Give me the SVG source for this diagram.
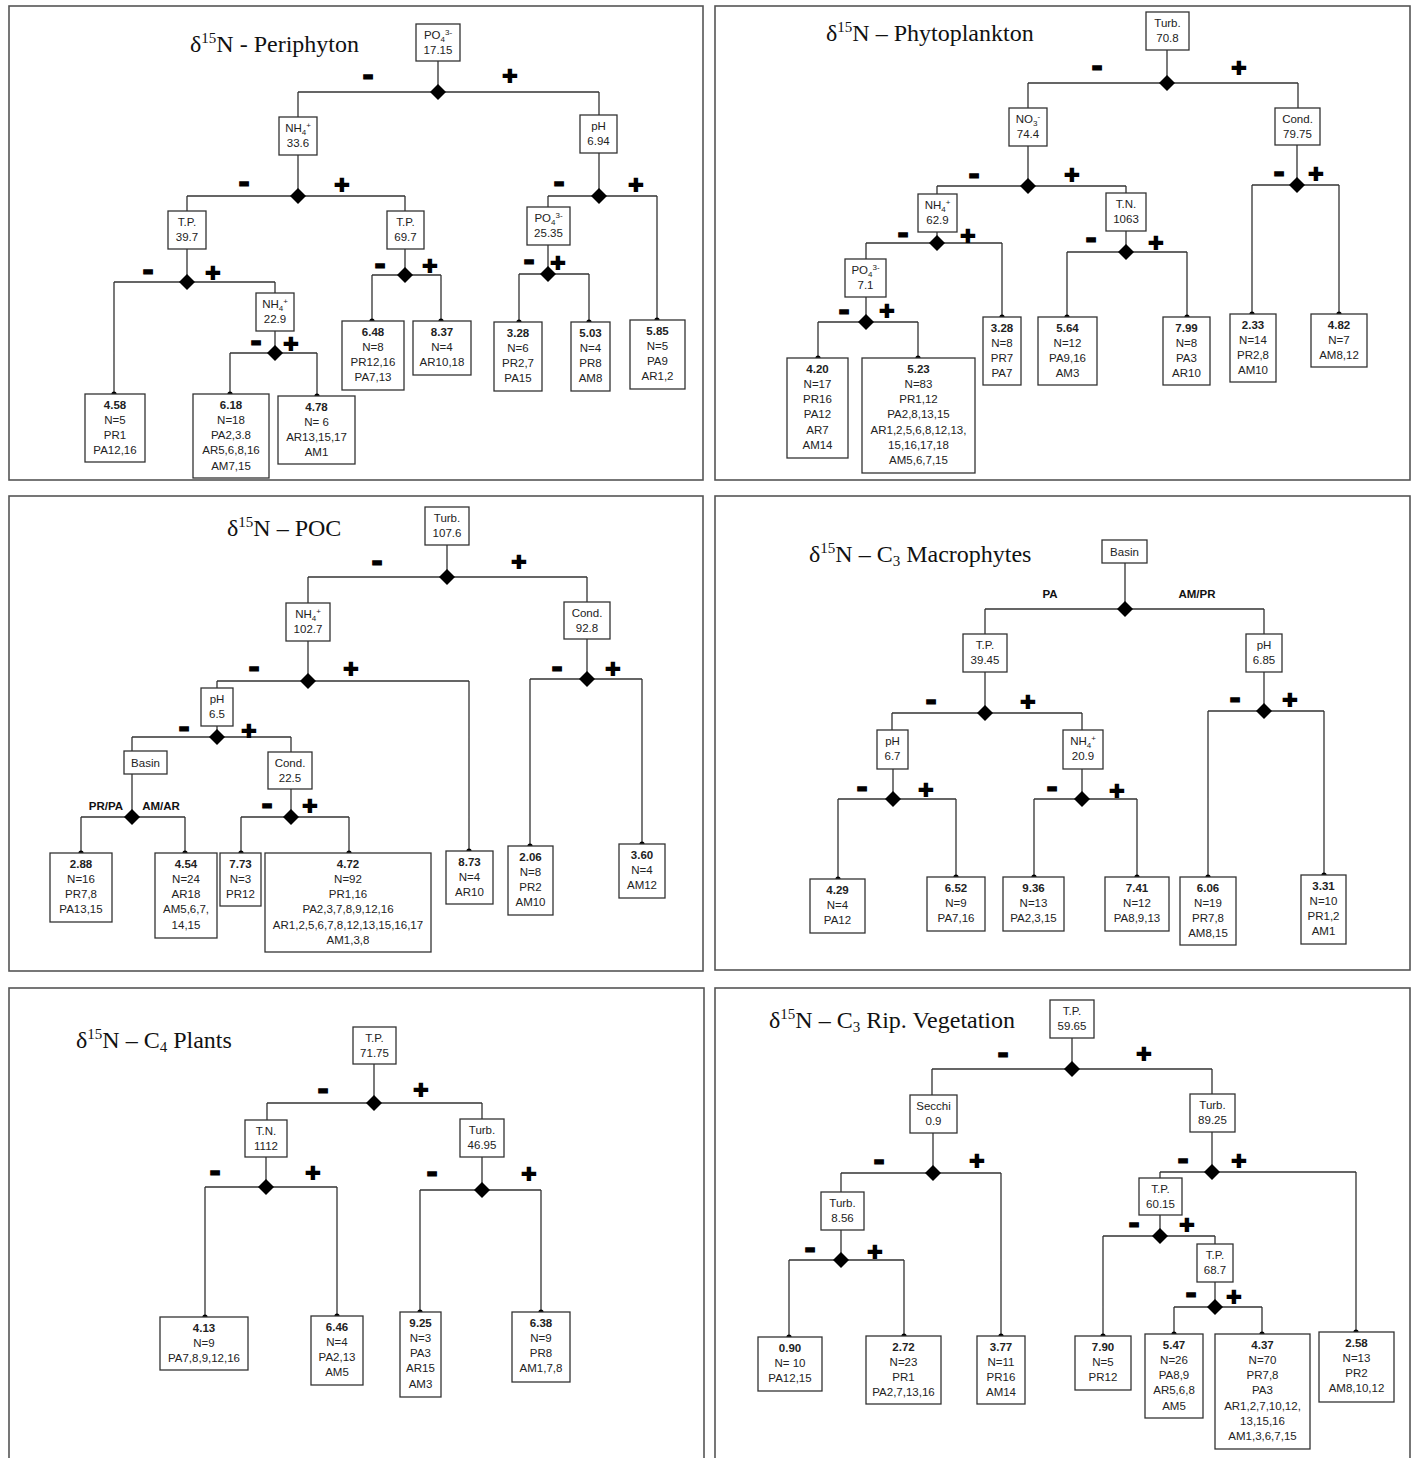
<svg xmlns="http://www.w3.org/2000/svg" xmlns:xlink="http://www.w3.org/1999/xlink" width="1414" height="1458" viewBox="0 0 1414 1458">
<style>
.frame{fill:none;stroke:#555;stroke-width:1.6}
.box{fill:#fff;stroke:#333;stroke-width:1.3}
.ln{fill:none;stroke:#333;stroke-width:1.3}
.t{font-family:"Liberation Sans",Arial,sans-serif;font-size:11.5px;fill:#222;text-anchor:middle}
.b{font-weight:bold}
.s{font-size:8px}
.ttl{font-family:"Liberation Serif","Times New Roman",serif;font-size:24px;fill:#111}
.sp{font-size:15px}
.mn{font-family:"DejaVu Sans",sans-serif;font-weight:bold;font-size:28px;text-anchor:middle;fill:#000;stroke:#000;stroke-width:1.2}
.pl{font-family:"DejaVu Sans",sans-serif;font-weight:bold;font-size:20px;text-anchor:middle;fill:#000;stroke:#000;stroke-width:2}
.lb{font-family:"Liberation Sans",Arial,sans-serif;font-size:11.5px;font-weight:bold;fill:#111;text-anchor:middle}
</style>
<defs>
<path id="dia" d="M0,-8L8,0L0,8L-8,0Z" fill="#000"/>
<circle id="dot" r="2.6" fill="#000"/>
</defs>
<rect width="1414" height="1458" fill="#fff"/>
<g id="frames">
<rect class="frame" x="9" y="6" width="694" height="474"/>
<rect class="frame" x="715" y="6" width="695" height="474"/>
<rect class="frame" x="9" y="496" width="694" height="475"/>
<rect class="frame" x="715" y="496" width="695" height="474"/>
<rect class="frame" x="9" y="988" width="695" height="490"/>
<rect class="frame" x="715" y="988" width="695" height="490"/>
</g>
<g id="titles">
<text class="ttl" x="190" y="52">δ<tspan class="sp" dy="-9">15</tspan><tspan dy="9">N - Periphyton</tspan></text>
<text class="ttl" x="826" y="41">δ<tspan class="sp" dy="-9">15</tspan><tspan dy="9">N – Phytoplankton</tspan></text>
<text class="ttl" x="227" y="536">δ<tspan class="sp" dy="-9">15</tspan><tspan dy="9">N – POC</tspan></text>
<text class="ttl" x="809" y="562">δ<tspan class="sp" dy="-9">15</tspan><tspan dy="9">N – C</tspan><tspan class="sp" dy="4">3</tspan><tspan dy="-4"> Macrophytes</tspan></text>
<text class="ttl" x="76" y="1048">δ<tspan class="sp" dy="-9">15</tspan><tspan dy="9">N – C</tspan><tspan class="sp" dy="4">4</tspan><tspan dy="-4"> Plants</tspan></text>
<text class="ttl" x="769" y="1028">δ<tspan class="sp" dy="-9">15</tspan><tspan dy="9">N – C</tspan><tspan class="sp" dy="4">3</tspan><tspan dy="-4"> Rip. Vegetation</tspan></text>
</g>
<g id="connectors">
<path class="ln" d="M438,61V92M298,92H599M298,92V117M599,92V115M298,155V196M187,196H405M187,196V211M405,196V211M187,249V282M114,282H275M114,282V394M275,282V293M275,331V353M230,353H317M230,353V394M317,353V396M405,249V275M372,275H441M372,275V321M441,275V321M599,153V196M548,196H657M548,196V207M657,196V320M548,245V274M519,274H589M519,274V322M589,274V322"/>
<path class="ln" d="M1167,50V83M1028,83H1298M1028,83V108M1298,83V108M1028,146V186M937,186H1126M937,186V194M1126,186V193M937,232V243M866,243H1002M866,243V259M1002,243V317M866,297V322M818,322H918M818,322V358M918,322V358M1126,231V252M1067,252H1187M1067,252V317M1187,252V317M1297,145V185M1252,185H1339M1252,185V314M1339,185V314"/>
<path class="ln" d="M447,545V577M308,577H587M308,577V603M587,577V602M308,641V681M217,681H469M217,681V688M469,681V851M217,726V737M132,737H291M132,737V751M291,737V752M132,774V817M81,817H185M81,817V853M185,817V853M291,789V817M241,817H349M241,817V853M349,817V853M587,639V679M530,679H642M530,679V846M642,679V844"/>
<path class="ln" d="M1125,563V609M985,609H1264M985,609V634M1264,609V634M985,672V713M892,713H1082M892,713V730M1082,713V730M893,769V799M838,799H956M838,799V879M956,799V877M1082,769V799M1034,799H1137M1034,799V877M1137,799V877M1264,672V711M1208,711H1324M1208,711V877M1324,711V875"/>
<path class="ln" d="M374,1064V1103M267,1103H482M267,1103V1120M482,1103V1119M266,1157V1187M205,1187H337M205,1187V1317M337,1187V1316M482,1157V1190M420,1190H541M420,1190V1312M541,1190V1312"/>
<path class="ln" d="M1072,1038V1069M932,1069H1212M932,1069V1095M1212,1069V1094M933,1133V1173M841,1173H1001M841,1173V1192M1001,1173V1336M841,1230V1260M789,1260H904M789,1260V1337M904,1260V1336M1212,1132V1172M1160,1172H1356M1160,1172V1178M1356,1172V1332M1160,1215V1236M1103,1236H1215M1103,1236V1336M1215,1236V1244M1215,1282V1307M1174,1307H1262M1174,1307V1334M1262,1307V1334"/>
<use href="#dia" x="438" y="92"/><use href="#dia" x="298" y="196"/><use href="#dia" x="187" y="282"/><use href="#dia" x="275" y="353"/><use href="#dia" x="405" y="275"/><use href="#dia" x="599" y="196"/><use href="#dia" x="548" y="274"/>
<use href="#dia" x="1167" y="83"/><use href="#dia" x="1028" y="186"/><use href="#dia" x="937" y="243"/><use href="#dia" x="866" y="322"/><use href="#dia" x="1126" y="252"/><use href="#dia" x="1297" y="185"/>
<use href="#dia" x="447" y="577"/><use href="#dia" x="308" y="681"/><use href="#dia" x="217" y="737"/><use href="#dia" x="132" y="817"/><use href="#dia" x="291" y="817"/><use href="#dia" x="587" y="679"/>
<use href="#dia" x="1125" y="609"/><use href="#dia" x="985" y="713"/><use href="#dia" x="893" y="799"/><use href="#dia" x="1082" y="799"/><use href="#dia" x="1264" y="711"/>
<use href="#dia" x="374" y="1103"/><use href="#dia" x="266" y="1187"/><use href="#dia" x="482" y="1190"/>
<use href="#dia" x="1072" y="1069"/><use href="#dia" x="933" y="1173"/><use href="#dia" x="841" y="1260"/><use href="#dia" x="1212" y="1172"/><use href="#dia" x="1160" y="1236"/><use href="#dia" x="1215" y="1307"/>
<use href="#dot" x="114" y="394"/><use href="#dot" x="230" y="394"/><use href="#dot" x="317" y="396"/><use href="#dot" x="372" y="321"/><use href="#dot" x="441" y="321"/><use href="#dot" x="519" y="322"/><use href="#dot" x="589" y="322"/><use href="#dot" x="657" y="320"/>
<use href="#dot" x="818" y="358"/><use href="#dot" x="918" y="358"/><use href="#dot" x="1002" y="317"/><use href="#dot" x="1067" y="317"/><use href="#dot" x="1187" y="317"/><use href="#dot" x="1252" y="314"/><use href="#dot" x="1339" y="314"/>
<use href="#dot" x="81" y="853"/><use href="#dot" x="185" y="853"/><use href="#dot" x="241" y="853"/><use href="#dot" x="349" y="853"/><use href="#dot" x="469" y="851"/><use href="#dot" x="530" y="846"/><use href="#dot" x="642" y="844"/>
<use href="#dot" x="838" y="879"/><use href="#dot" x="956" y="877"/><use href="#dot" x="1034" y="877"/><use href="#dot" x="1137" y="877"/><use href="#dot" x="1208" y="877"/><use href="#dot" x="1324" y="875"/>
<use href="#dot" x="205" y="1317"/><use href="#dot" x="337" y="1316"/><use href="#dot" x="420" y="1312"/><use href="#dot" x="541" y="1312"/>
<use href="#dot" x="789" y="1337"/><use href="#dot" x="904" y="1336"/><use href="#dot" x="1001" y="1336"/><use href="#dot" x="1103" y="1336"/><use href="#dot" x="1174" y="1334"/><use href="#dot" x="1262" y="1334"/><use href="#dot" x="1356" y="1332"/>
<g id="signs">
<text class="mn" x="368" y="85">-</text><text class="pl" x="510" y="82">+</text>
<text class="mn" x="244" y="192">-</text><text class="pl" x="342" y="191">+</text>
<text class="mn" x="148" y="280">-</text><text class="pl" x="213" y="279">+</text>
<text class="mn" x="256" y="351">-</text><text class="pl" x="291" y="350">+</text>
<text class="mn" x="380" y="274">-</text><text class="pl" x="430" y="272">+</text>
<text class="mn" x="559" y="192">-</text><text class="pl" x="636" y="191">+</text>
<text class="mn" x="529" y="270">-</text><text class="pl" x="558" y="269">+</text>
<text class="mn" x="1097" y="76">-</text><text class="pl" x="1239" y="74">+</text>
<text class="mn" x="974" y="184">-</text><text class="pl" x="1072" y="181">+</text>
<text class="mn" x="903" y="243">-</text><text class="pl" x="968" y="242">+</text>
<text class="mn" x="844" y="320">-</text><text class="pl" x="887" y="317">+</text>
<text class="mn" x="1091" y="248">-</text><text class="pl" x="1156" y="249">+</text>
<text class="mn" x="1279" y="182">-</text><text class="pl" x="1316" y="180">+</text>
<text class="mn" x="377" y="571">-</text><text class="pl" x="519" y="568">+</text>
<text class="mn" x="254" y="677">-</text><text class="pl" x="351" y="675">+</text>
<text class="mn" x="184" y="737">-</text><text class="pl" x="249" y="737">+</text>
<text class="mn" x="267" y="814">-</text><text class="pl" x="310" y="812">+</text>
<text class="mn" x="557" y="677">-</text><text class="pl" x="613" y="675">+</text>
<text class="mn" x="931" y="710">-</text><text class="pl" x="1028" y="708">+</text>
<text class="mn" x="862" y="797">-</text><text class="pl" x="926" y="796">+</text>
<text class="mn" x="1052" y="797">-</text><text class="pl" x="1117" y="797">+</text>
<text class="mn" x="1235" y="708">-</text><text class="pl" x="1290" y="706">+</text>
<text class="mn" x="323" y="1099">-</text><text class="pl" x="421" y="1096">+</text>
<text class="mn" x="215" y="1181">-</text><text class="pl" x="313" y="1179">+</text>
<text class="mn" x="432" y="1182">-</text><text class="pl" x="529" y="1180">+</text>
<text class="mn" x="1003" y="1063">-</text><text class="pl" x="1144" y="1060">+</text>
<text class="mn" x="879" y="1170">-</text><text class="pl" x="977" y="1167">+</text>
<text class="mn" x="810" y="1258">-</text><text class="pl" x="875" y="1258">+</text>
<text class="mn" x="1183" y="1169">-</text><text class="pl" x="1239" y="1167">+</text>
<text class="mn" x="1134" y="1233">-</text><text class="pl" x="1187" y="1231">+</text>
<text class="mn" x="1191" y="1303">-</text><text class="pl" x="1234" y="1303">+</text>
<text class="lb" x="106" y="810">PR/PA</text><text class="lb" x="161" y="810">AM/AR</text>
<text class="lb" x="1050" y="598">PA</text><text class="lb" x="1197" y="598">AM/PR</text>
</g>
</g>
<g id="p1-root"><rect class="box" x="416" y="24" width="44" height="37"/><text class="t" x="438" y="39">PO<tspan class="s" dy="3">4</tspan><tspan class="s" dy="-7">3-</tspan></text><text class="t" x="438" y="54">17.15</text></g>
<g id="p1-nh4a"><rect class="box" x="279" y="117" width="38" height="38"/><text class="t" x="298" y="132">NH<tspan class="s" dy="3">4</tspan><tspan class="s" dy="-7">+</tspan></text><text class="t" x="298" y="147">33.6</text></g>
<g id="p1-tpa"><rect class="box" x="168" y="211" width="38" height="38"/><text class="t" x="187" y="226">T.P.</text><text class="t" x="187" y="241">39.7</text></g>
<g id="p1-nh4b"><rect class="box" x="256" y="293" width="38" height="38"/><text class="t" x="275" y="308">NH<tspan class="s" dy="3">4</tspan><tspan class="s" dy="-7">+</tspan></text><text class="t" x="275" y="323">22.9</text></g>
<g id="p1-tpb"><rect class="box" x="387" y="211" width="37" height="38"/><text class="t" x="405.5" y="226">T.P.</text><text class="t" x="405.5" y="241">69.7</text></g>
<g id="p1-ph"><rect class="box" x="580" y="115" width="37" height="38"/><text class="t" x="598.5" y="130">pH</text><text class="t" x="598.5" y="145">6.94</text></g>
<g id="p1-po4b"><rect class="box" x="527" y="207" width="43" height="38"/><text class="t" x="548.5" y="222">PO<tspan class="s" dy="3">4</tspan><tspan class="s" dy="-7">3-</tspan></text><text class="t" x="548.5" y="237">25.35</text></g>
<g id="p1-l1"><rect class="box" x="85" y="394" width="60" height="68"/><text class="t" x="115" y="408.5"><tspan class="b">4.58</tspan><tspan x="115" dy="15.3">N=5</tspan><tspan x="115" dy="15.3">PR1</tspan><tspan x="115" dy="15.3">PA12,16</tspan></text></g>
<g id="p1-l2"><rect class="box" x="193" y="394" width="76" height="84"/><text class="t" x="231" y="408.5"><tspan class="b">6.18</tspan><tspan x="231" dy="15.3">N=18</tspan><tspan x="231" dy="15.3">PA2,3.8</tspan><tspan x="231" dy="15.3">AR5,6,8,16</tspan><tspan x="231" dy="15.3">AM7,15</tspan></text></g>
<g id="p1-l3"><rect class="box" x="278" y="396" width="77" height="68"/><text class="t" x="316.5" y="410.5"><tspan class="b">4.78</tspan><tspan x="316.5" dy="15.3">N= 6</tspan><tspan x="316.5" dy="15.3">AR13,15,17</tspan><tspan x="316.5" dy="15.3">AM1</tspan></text></g>
<g id="p1-l4"><rect class="box" x="342" y="321" width="62" height="69"/><text class="t" x="373" y="335.5"><tspan class="b">6.48</tspan><tspan x="373" dy="15.3">N=8</tspan><tspan x="373" dy="15.3">PR12,16</tspan><tspan x="373" dy="15.3">PA7,13</tspan></text></g>
<g id="p1-l5"><rect class="box" x="413" y="321" width="58" height="54"/><text class="t" x="442" y="335.5"><tspan class="b">8.37</tspan><tspan x="442" dy="15.3">N=4</tspan><tspan x="442" dy="15.3">AR10,18</tspan></text></g>
<g id="p1-l6"><rect class="box" x="494" y="322" width="48" height="69"/><text class="t" x="518" y="336.5"><tspan class="b">3.28</tspan><tspan x="518" dy="15.3">N=6</tspan><tspan x="518" dy="15.3">PR2,7</tspan><tspan x="518" dy="15.3">PA15</tspan></text></g>
<g id="p1-l7"><rect class="box" x="571" y="322" width="39" height="69"/><text class="t" x="590.5" y="336.5"><tspan class="b">5.03</tspan><tspan x="590.5" dy="15.3">N=4</tspan><tspan x="590.5" dy="15.3">PR8</tspan><tspan x="590.5" dy="15.3">AM8</tspan></text></g>
<g id="p1-l8"><rect class="box" x="630" y="320" width="55" height="69"/><text class="t" x="657.5" y="334.5"><tspan class="b">5.85</tspan><tspan x="657.5" dy="15.3">N=5</tspan><tspan x="657.5" dy="15.3">PA9</tspan><tspan x="657.5" dy="15.3">AR1,2</tspan></text></g>
<g id="p2-root"><rect class="box" x="1146" y="12" width="43" height="38"/><text class="t" x="1167.5" y="27">Turb.</text><text class="t" x="1167.5" y="42">70.8</text></g>
<g id="p2-no3"><rect class="box" x="1009" y="108" width="38" height="38"/><text class="t" x="1028" y="123">NO<tspan class="s" dy="3">3</tspan><tspan class="s" dy="-7">-</tspan></text><text class="t" x="1028" y="138">74.4</text></g>
<g id="p2-nh4"><rect class="box" x="918" y="194" width="39" height="38"/><text class="t" x="937.5" y="209">NH<tspan class="s" dy="3">4</tspan><tspan class="s" dy="-7">+</tspan></text><text class="t" x="937.5" y="224">62.9</text></g>
<g id="p2-po4"><rect class="box" x="845" y="259" width="41" height="38"/><text class="t" x="865.5" y="274">PO<tspan class="s" dy="3">4</tspan><tspan class="s" dy="-7">3-</tspan></text><text class="t" x="865.5" y="289">7.1</text></g>
<g id="p2-tn"><rect class="box" x="1106" y="193" width="40" height="38"/><text class="t" x="1126" y="208">T.N.</text><text class="t" x="1126" y="223">1063</text></g>
<g id="p2-cond"><rect class="box" x="1275" y="108" width="45" height="37"/><text class="t" x="1297.5" y="123">Cond.</text><text class="t" x="1297.5" y="138">79.75</text></g>
<g id="p2-l1"><rect class="box" x="787" y="358" width="61" height="100"/><text class="t" x="817.5" y="372.5"><tspan class="b">4.20</tspan><tspan x="817.5" dy="15.3">N=17</tspan><tspan x="817.5" dy="15.3">PR16</tspan><tspan x="817.5" dy="15.3">PA12</tspan><tspan x="817.5" dy="15.3">AR7</tspan><tspan x="817.5" dy="15.3">AM14</tspan></text></g>
<g id="p2-l2"><rect class="box" x="862" y="358" width="113" height="115"/><text class="t" x="918.5" y="372.5"><tspan class="b">5.23</tspan><tspan x="918.5" dy="15.3">N=83</tspan><tspan x="918.5" dy="15.3">PR1,12</tspan><tspan x="918.5" dy="15.3">PA2,8,13,15</tspan><tspan x="918.5" dy="15.3">AR1,2,5,6,8,12,13,</tspan><tspan x="918.5" dy="15.3">15,16,17,18</tspan><tspan x="918.5" dy="15.3">AM5,6,7,15</tspan></text></g>
<g id="p2-l3"><rect class="box" x="983" y="317" width="38" height="68"/><text class="t" x="1002" y="331.5"><tspan class="b">3.28</tspan><tspan x="1002" dy="15.3">N=8</tspan><tspan x="1002" dy="15.3">PR7</tspan><tspan x="1002" dy="15.3">PA7</tspan></text></g>
<g id="p2-l4"><rect class="box" x="1038" y="317" width="59" height="68"/><text class="t" x="1067.5" y="331.5"><tspan class="b">5.64</tspan><tspan x="1067.5" dy="15.3">N=12</tspan><tspan x="1067.5" dy="15.3">PA9,16</tspan><tspan x="1067.5" dy="15.3">AM3</tspan></text></g>
<g id="p2-l5"><rect class="box" x="1163" y="317" width="47" height="68"/><text class="t" x="1186.5" y="331.5"><tspan class="b">7.99</tspan><tspan x="1186.5" dy="15.3">N=8</tspan><tspan x="1186.5" dy="15.3">PA3</tspan><tspan x="1186.5" dy="15.3">AR10</tspan></text></g>
<g id="p2-l6"><rect class="box" x="1230" y="314" width="46" height="68"/><text class="t" x="1253" y="328.5"><tspan class="b">2.33</tspan><tspan x="1253" dy="15.3">N=14</tspan><tspan x="1253" dy="15.3">PR2,8</tspan><tspan x="1253" dy="15.3">AM10</tspan></text></g>
<g id="p2-l7"><rect class="box" x="1311" y="314" width="56" height="53"/><text class="t" x="1339" y="328.5"><tspan class="b">4.82</tspan><tspan x="1339" dy="15.3">N=7</tspan><tspan x="1339" dy="15.3">AM8,12</tspan></text></g>
<g id="p3-root"><rect class="box" x="425" y="507" width="44" height="38"/><text class="t" x="447" y="522">Turb.</text><text class="t" x="447" y="537">107.6</text></g>
<g id="p3-nh4"><rect class="box" x="286" y="603" width="44" height="38"/><text class="t" x="308" y="618">NH<tspan class="s" dy="3">4</tspan><tspan class="s" dy="-7">+</tspan></text><text class="t" x="308" y="633">102.7</text></g>
<g id="p3-ph"><rect class="box" x="201" y="688" width="32" height="38"/><text class="t" x="217" y="703">pH</text><text class="t" x="217" y="718">6.5</text></g>
<g id="p3-basin"><rect class="box" x="124" y="751" width="43" height="23"/><text class="t" x="145.5" y="767">Basin</text></g>
<g id="p3-conda"><rect class="box" x="268" y="752" width="44" height="37"/><text class="t" x="290" y="767">Cond.</text><text class="t" x="290" y="782">22.5</text></g>
<g id="p3-condb"><rect class="box" x="564" y="602" width="46" height="37"/><text class="t" x="587" y="617">Cond.</text><text class="t" x="587" y="632">92.8</text></g>
<g id="p3-l1"><rect class="box" x="50" y="853" width="62" height="69"/><text class="t" x="81" y="867.5"><tspan class="b">2.88</tspan><tspan x="81" dy="15.3">N=16</tspan><tspan x="81" dy="15.3">PR7,8</tspan><tspan x="81" dy="15.3">PA13,15</tspan></text></g>
<g id="p3-l2"><rect class="box" x="155" y="853" width="62" height="85"/><text class="t" x="186" y="867.5"><tspan class="b">4.54</tspan><tspan x="186" dy="15.3">N=24</tspan><tspan x="186" dy="15.3">AR18</tspan><tspan x="186" dy="15.3">AM5,6,7,</tspan><tspan x="186" dy="15.3">14,15</tspan></text></g>
<g id="p3-l3"><rect class="box" x="220" y="853" width="41" height="53"/><text class="t" x="240.5" y="867.5"><tspan class="b">7.73</tspan><tspan x="240.5" dy="15.3">N=3</tspan><tspan x="240.5" dy="15.3">PR12</tspan></text></g>
<g id="p3-l4"><rect class="box" x="265" y="853" width="166" height="99"/><text class="t" x="348" y="867.5"><tspan class="b">4.72</tspan><tspan x="348" dy="15.3">N=92</tspan><tspan x="348" dy="15.3">PR1,16</tspan><tspan x="348" dy="15.3">PA2,3,7,8,9,12,16</tspan><tspan x="348" dy="15.3">AR1,2,5,6,7,8,12,13,15,16,17</tspan><tspan x="348" dy="15.3">AM1,3,8</tspan></text></g>
<g id="p3-l5"><rect class="box" x="446" y="851" width="47" height="53"/><text class="t" x="469.5" y="865.5"><tspan class="b">8.73</tspan><tspan x="469.5" dy="15.3">N=4</tspan><tspan x="469.5" dy="15.3">AR10</tspan></text></g>
<g id="p3-l6"><rect class="box" x="508" y="846" width="45" height="69"/><text class="t" x="530.5" y="860.5"><tspan class="b">2.06</tspan><tspan x="530.5" dy="15.3">N=8</tspan><tspan x="530.5" dy="15.3">PR2</tspan><tspan x="530.5" dy="15.3">AM10</tspan></text></g>
<g id="p3-l7"><rect class="box" x="619" y="844" width="46" height="54"/><text class="t" x="642" y="858.5"><tspan class="b">3.60</tspan><tspan x="642" dy="15.3">N=4</tspan><tspan x="642" dy="15.3">AM12</tspan></text></g>
<g id="p4-root"><rect class="box" x="1102" y="540" width="45" height="23"/><text class="t" x="1124.5" y="556">Basin</text></g>
<g id="p4-tp"><rect class="box" x="963" y="634" width="44" height="38"/><text class="t" x="985" y="649">T.P.</text><text class="t" x="985" y="664">39.45</text></g>
<g id="p4-pha"><rect class="box" x="877" y="730" width="31" height="39"/><text class="t" x="892.5" y="745">pH</text><text class="t" x="892.5" y="760">6.7</text></g>
<g id="p4-nh4"><rect class="box" x="1063" y="730" width="40" height="39"/><text class="t" x="1083" y="745">NH<tspan class="s" dy="3">4</tspan><tspan class="s" dy="-7">+</tspan></text><text class="t" x="1083" y="760">20.9</text></g>
<g id="p4-phb"><rect class="box" x="1246" y="634" width="36" height="38"/><text class="t" x="1264" y="649">pH</text><text class="t" x="1264" y="664">6.85</text></g>
<g id="p4-l1"><rect class="box" x="810" y="879" width="55" height="54"/><text class="t" x="837.5" y="893.5"><tspan class="b">4.29</tspan><tspan x="837.5" dy="15.3">N=4</tspan><tspan x="837.5" dy="15.3">PA12</tspan></text></g>
<g id="p4-l2"><rect class="box" x="927" y="877" width="58" height="54"/><text class="t" x="956" y="891.5"><tspan class="b">6.52</tspan><tspan x="956" dy="15.3">N=9</tspan><tspan x="956" dy="15.3">PA7,16</tspan></text></g>
<g id="p4-l3"><rect class="box" x="1003" y="877" width="61" height="54"/><text class="t" x="1033.5" y="891.5"><tspan class="b">9.36</tspan><tspan x="1033.5" dy="15.3">N=13</tspan><tspan x="1033.5" dy="15.3">PA2,3,15</tspan></text></g>
<g id="p4-l4"><rect class="box" x="1105" y="877" width="64" height="54"/><text class="t" x="1137" y="891.5"><tspan class="b">7.41</tspan><tspan x="1137" dy="15.3">N=12</tspan><tspan x="1137" dy="15.3">PA8,9,13</tspan></text></g>
<g id="p4-l5"><rect class="box" x="1180" y="877" width="56" height="68"/><text class="t" x="1208" y="891.5"><tspan class="b">6.06</tspan><tspan x="1208" dy="15.3">N=19</tspan><tspan x="1208" dy="15.3">PR7,8</tspan><tspan x="1208" dy="15.3">AM8,15</tspan></text></g>
<g id="p4-l6"><rect class="box" x="1301" y="875" width="45" height="69"/><text class="t" x="1323.5" y="889.5"><tspan class="b">3.31</tspan><tspan x="1323.5" dy="15.3">N=10</tspan><tspan x="1323.5" dy="15.3">PR1,2</tspan><tspan x="1323.5" dy="15.3">AM1</tspan></text></g>
<g id="p5-root"><rect class="box" x="353" y="1027" width="43" height="37"/><text class="t" x="374.5" y="1042">T.P.</text><text class="t" x="374.5" y="1057">71.75</text></g>
<g id="p5-tn"><rect class="box" x="245" y="1120" width="42" height="37"/><text class="t" x="266" y="1135">T.N.</text><text class="t" x="266" y="1150">1112</text></g>
<g id="p5-turb"><rect class="box" x="460" y="1119" width="44" height="38"/><text class="t" x="482" y="1134">Turb.</text><text class="t" x="482" y="1149">46.95</text></g>
<g id="p5-l1"><rect class="box" x="160" y="1317" width="88" height="53"/><text class="t" x="204" y="1331.5"><tspan class="b">4.13</tspan><tspan x="204" dy="15.3">N=9</tspan><tspan x="204" dy="15.3">PA7,8,9,12,16</tspan></text></g>
<g id="p5-l2"><rect class="box" x="311" y="1316" width="52" height="69"/><text class="t" x="337" y="1330.5"><tspan class="b">6.46</tspan><tspan x="337" dy="15.3">N=4</tspan><tspan x="337" dy="15.3">PA2,13</tspan><tspan x="337" dy="15.3">AM5</tspan></text></g>
<g id="p5-l3"><rect class="box" x="400" y="1312" width="41" height="85"/><text class="t" x="420.5" y="1326.5"><tspan class="b">9.25</tspan><tspan x="420.5" dy="15.3">N=3</tspan><tspan x="420.5" dy="15.3">PA3</tspan><tspan x="420.5" dy="15.3">AR15</tspan><tspan x="420.5" dy="15.3">AM3</tspan></text></g>
<g id="p5-l4"><rect class="box" x="512" y="1312" width="58" height="70"/><text class="t" x="541" y="1326.5"><tspan class="b">6.38</tspan><tspan x="541" dy="15.3">N=9</tspan><tspan x="541" dy="15.3">PR8</tspan><tspan x="541" dy="15.3">AM1,7,8</tspan></text></g>
<g id="p6-root"><rect class="box" x="1050" y="1000" width="44" height="38"/><text class="t" x="1072" y="1015">T.P.</text><text class="t" x="1072" y="1030">59.65</text></g>
<g id="p6-secchi"><rect class="box" x="910" y="1095" width="47" height="38"/><text class="t" x="933.5" y="1110">Secchi</text><text class="t" x="933.5" y="1125">0.9</text></g>
<g id="p6-turba"><rect class="box" x="821" y="1192" width="43" height="38"/><text class="t" x="842.5" y="1207">Turb.</text><text class="t" x="842.5" y="1222">8.56</text></g>
<g id="p6-turbb"><rect class="box" x="1190" y="1094" width="45" height="38"/><text class="t" x="1212.5" y="1109">Turb.</text><text class="t" x="1212.5" y="1124">89.25</text></g>
<g id="p6-tpa"><rect class="box" x="1139" y="1178" width="43" height="37"/><text class="t" x="1160.5" y="1193">T.P.</text><text class="t" x="1160.5" y="1208">60.15</text></g>
<g id="p6-tpb"><rect class="box" x="1197" y="1244" width="36" height="38"/><text class="t" x="1215" y="1259">T.P.</text><text class="t" x="1215" y="1274">68.7</text></g>
<g id="p6-l1"><rect class="box" x="758" y="1337" width="64" height="54"/><text class="t" x="790" y="1351.5"><tspan class="b">0.90</tspan><tspan x="790" dy="15.3">N= 10</tspan><tspan x="790" dy="15.3">PA12,15</tspan></text></g>
<g id="p6-l2"><rect class="box" x="866" y="1336" width="75" height="68"/><text class="t" x="903.5" y="1350.5"><tspan class="b">2.72</tspan><tspan x="903.5" dy="15.3">N=23</tspan><tspan x="903.5" dy="15.3">PR1</tspan><tspan x="903.5" dy="15.3">PA2,7,13,16</tspan></text></g>
<g id="p6-l3"><rect class="box" x="977" y="1336" width="48" height="68"/><text class="t" x="1001" y="1350.5"><tspan class="b">3.77</tspan><tspan x="1001" dy="15.3">N=11</tspan><tspan x="1001" dy="15.3">PR16</tspan><tspan x="1001" dy="15.3">AM14</tspan></text></g>
<g id="p6-l4"><rect class="box" x="1075" y="1336" width="56" height="54"/><text class="t" x="1103" y="1350.5"><tspan class="b">7.90</tspan><tspan x="1103" dy="15.3">N=5</tspan><tspan x="1103" dy="15.3">PR12</tspan></text></g>
<g id="p6-l5"><rect class="box" x="1145" y="1334" width="58" height="84"/><text class="t" x="1174" y="1348.5"><tspan class="b">5.47</tspan><tspan x="1174" dy="15.3">N=26</tspan><tspan x="1174" dy="15.3">PA8,9</tspan><tspan x="1174" dy="15.3">AR5,6,8</tspan><tspan x="1174" dy="15.3">AM5</tspan></text></g>
<g id="p6-l6"><rect class="box" x="1215" y="1334" width="95" height="115"/><text class="t" x="1262.5" y="1348.5"><tspan class="b">4.37</tspan><tspan x="1262.5" dy="15.3">N=70</tspan><tspan x="1262.5" dy="15.3">PR7,8</tspan><tspan x="1262.5" dy="15.3">PA3</tspan><tspan x="1262.5" dy="15.3">AR1,2,7,10,12,</tspan><tspan x="1262.5" dy="15.3">13,15,16</tspan><tspan x="1262.5" dy="15.3">AM1,3,6,7,15</tspan></text></g>
<g id="p6-l7"><rect class="box" x="1319" y="1332" width="75" height="70"/><text class="t" x="1356.5" y="1346.5"><tspan class="b">2.58</tspan><tspan x="1356.5" dy="15.3">N=13</tspan><tspan x="1356.5" dy="15.3">PR2</tspan><tspan x="1356.5" dy="15.3">AM8,10,12</tspan></text></g>
</svg>
